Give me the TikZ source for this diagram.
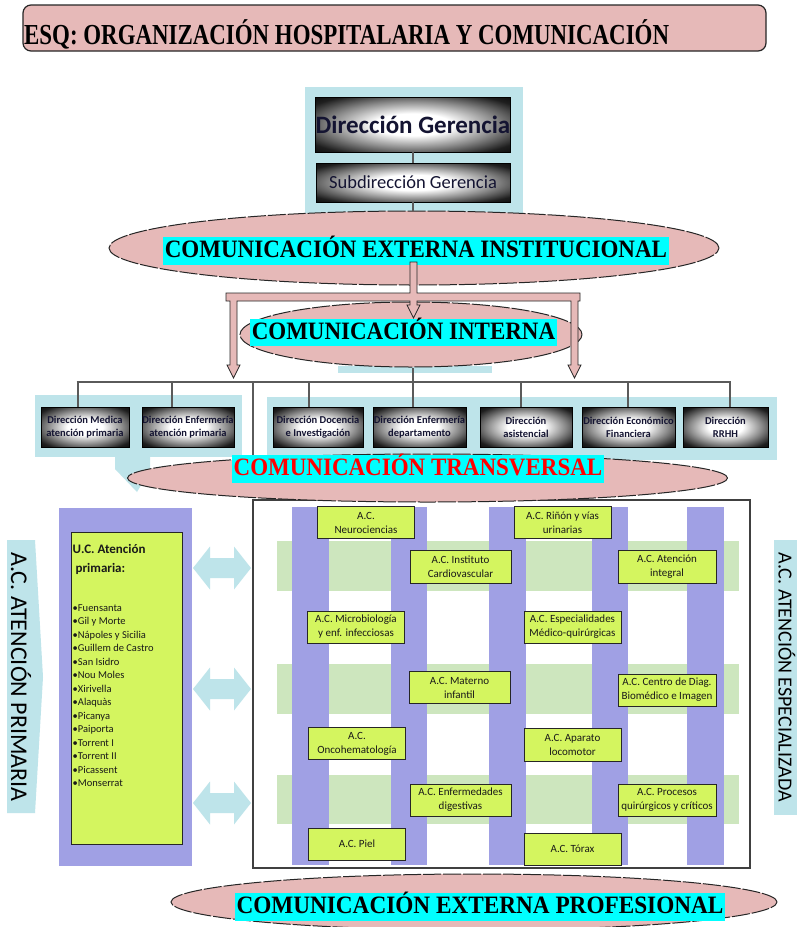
\documentclass[tikz,border=0pt]{standalone}
\usepackage{fontspec}
\usepackage{graphicx}
\setmainfont{Liberation Serif}
\newfontfamily\calfont{Carlito}
\usetikzlibrary{shapes.geometric}
\definecolor{pinkF}{RGB}{230,185,184}
\definecolor{lcyan}{RGB}{190,228,234}
\definecolor{hcyan}{RGB}{0,255,255}
\definecolor{purp}{RGB}{160,160,228}
\definecolor{gband}{RGB}{205,230,190}
\definecolor{limeF}{RGB}{212,245,95}
\definecolor{lineg}{RGB}{90,90,90}
\definecolor{navyT}{RGB}{20,20,50}
\pgfdeclareradialshading{boxshade}{\pgfpoint{0bp}{0bp}}{color(0bp)=(white); color(10bp)=(white); color(21bp)=(black!45); color(31bp)=(black!88); color(40bp)=(black); color(50bp)=(black)}
\begin{document}
\begin{tikzpicture}[x=1pt,y=-1pt,
  ell/.style={ellipse, fill=pinkF, draw=black!85, line width=1pt, dash pattern=on 18pt off 2pt, inner sep=0pt},
  hl/.style={fill=hcyan, font=\bfseries\fontsize{25}{25}\selectfont, text height=19pt, text depth=5.5pt, inner xsep=2pt, inner ysep=1.5pt},
  conn/.style={draw=lineg, line width=2.8pt},
  dirbox/.style={rectangle, shading=boxshade, draw=black, line width=0.6pt, font=\calfont\bfseries\fontsize{10.5}{12.7}\selectfont, text=navyT, align=center, inner sep=0pt, minimum height=40pt},
  acbox/.style={rectangle, fill=limeF, draw=black!85, line width=0.9pt, font=\calfont\fontsize{11}{14}\selectfont, text=black!90, align=center, inner sep=0pt, minimum width=97pt, minimum height=32pt},
  pinkarrow/.style={fill=pinkF, draw=black!85, line width=0.8pt, line join=miter}
]
\useasboundingbox (0,0) rectangle (797,927);
\fill[white] (0,0) rectangle (797,927);

% title
\node[rectangle, rounded corners=8pt, fill=pinkF, draw=black!85, line width=1.2pt, minimum width=743pt, minimum height=46pt] (title) at (394.5,28) {};
\node[anchor=base west, font=\bfseries\fontsize{29}{29}\selectfont, inner sep=0pt] (titletxt) at (24,44) {\scalebox{0.79}[1]{ESQ: ORGANIZACIÓN HOSPITALARIA Y COMUNICACIÓN}};

% top block
\fill[lcyan] (305,87) rectangle (523,232);
\node[ell, minimum width=610pt, minimum height=74pt] (inst) at (414,248) {};
\node[dirbox, minimum width=194pt, minimum height=55pt, font=\calfont\bfseries\fontsize{25}{25}\selectfont] (ger) at (413,124.5) {Dirección Gerencia};
\node[dirbox, minimum width=194pt, minimum height=39pt, font=\calfont\fontsize{18.5}{18.5}\selectfont] (sub) at (413,182.5) {Subdirección Gerencia};
\draw[conn] (ger) -- (sub);
\draw[conn] (sub) -- (sub |- inst.north);
\node[hl] (insttxt) at (416,251) {\scalebox{0.92}[1]{COMUNICACIÓN EXTERNA INSTITUCIONAL}};

% interna
\fill[lcyan] (338,366) rectangle (492,373);
\node[ell, minimum width=342pt, minimum height=65pt] (interna) at (411,334.5) {};
\node[hl] (internatxt) at (403.5,332.5) {\scalebox{0.92}[1]{COMUNICACIÓN INTERNA}};

% pink block arrows
\draw[pinkarrow] (410,262) -- (417,262) -- (417,293) -- (580,293) -- (580,301) -- (578,301) -- (578,365) -- (581,365) -- (574.5,378) -- (568,365) -- (571,365) -- (571,301) -- (417,301) -- (417,305) -- (420,305) -- (413.5,318) -- (407,305) -- (410,305) -- (410,301) -- (237,301) -- (237,365) -- (240,365) -- (233.5,378) -- (227,365) -- (230,365) -- (230,301) -- (226,301) -- (226,293) -- (410,293) -- cycle;

% direction groups
\fill[lcyan] (35,395) rectangle (242,457);
\fill[lcyan] (115,456) -- (150,456) -- (150,470) -- (137,492) -- (115,469) -- cycle;
\fill[lcyan] (267,397) rectangle (777,460);
\node[dirbox, minimum width=88pt] (dm) at (85,427) {Dirección Medica\\atención primaria};
\node[dirbox, minimum width=92pt] (de) at (188,427) {Dirección Enfermería\\atención primaria};
\node[dirbox, minimum width=90pt] (dd) at (318,427) {Dirección Docencia\\e Investigación};
\node[dirbox, minimum width=93pt] (den) at (419.5,427) {Dirección Enfermería\\departamento};
\node[dirbox, minimum width=92pt] (da) at (526,427) {Dirección\\asistencial};
\node[dirbox, minimum width=93pt] (def) at (628.5,427) {Dirección Económico\\Financiera};
\node[dirbox, minimum width=85pt] (dr) at (725.5,427) {Dirección\\RRHH};

\coordinate (b1) at (78,382);
\coordinate (b2) at (172,382);
\coordinate (bs) at (253,382);
\coordinate (b3) at (309,382);
\coordinate (b4) at (413,382);
\coordinate (b5) at (521,382);
\coordinate (b6) at (628,382);
\coordinate (b7) at (730,382);
\draw[conn] ([xshift=-1.4pt]b1) -- ([xshift=1.4pt]b7);
\draw[conn] (b1) -- (b1 |- dm.north);
\draw[conn] (b2) -- (b2 |- de.north);
\draw[conn] (b3) -- (b3 |- dd.north);
\draw[conn] (b4 |- interna.south) -- (b4 |- den.north);
\draw[conn] (b5) -- (b5 |- da.north);
\draw[conn] (b6) -- (b6 |- def.north);
\draw[conn] (b7) -- (b7 |- dr.north);
\draw[conn] (bs) -- ++(0,76);

% lower frame and grid
\fill[gband] (277,541) rectangle (739,591);
\fill[gband] (277,664) rectangle (739,714);
\fill[gband] (277,775) rectangle (739,824);
\foreach \a/\b in {292/329, 391/427, 489/526, 592/628, 687/724}{
  \fill[purp] (\a,507) rectangle (\b,865);
}
\draw[draw=black!75, line width=1.6pt] (253,500) rectangle (750,868);

% transversal
\node[ell, minimum width=600pt, minimum height=48pt] (transv) at (427.5,478) {};
\node[hl, text=red] (transvtxt) at (418,469) {\scalebox{0.92}[1]{COMUNICACIÓN TRANSVERSAL}};

\node[acbox] (neuro) at (366,522.5) {A.C.\\Neurociencias};
\node[acbox, minimum width=101pt, minimum height=33pt] (cardio) at (460.5,566.5) {A.C. Instituto\\Cardiovascular};
\node[acbox] (micro) at (356,627) {A.C. Microbiología\\y enf. infecciosas};
\node[acbox] (rinon) at (562.5,522.5) {A.C. Riñón y vías\\urinarias};
\node[acbox, minimum width=98pt, minimum height=33pt] (integral) at (667,566.5) {A.C. Atención\\integral};
\node[acbox] (espec) at (572.5,627) {A.C. Especialidades\\Médico-quirúrgicas};
\node[acbox, minimum width=101pt] (materno) at (459.5,687.5) {A.C. Materno\\infantil};
\node[acbox] (onco) at (357,743.5) {A.C.\\Oncohematología};
\node[acbox, minimum width=101pt] (digest) at (460.5,800) {A.C. Enfermedades\\digestivas};
\node[acbox] (piel) at (357,844) {A.C. Piel};
\node[acbox, minimum width=98pt] (centro) at (667,690) {A.C. Centro de Diag.\\Biomédico e Imagen};
\node[acbox, minimum height=33pt] (aparato) at (572.5,744.5) {A.C. Aparato\\locomotor};
\node[acbox, minimum width=98pt] (procesos) at (667,800) {A.C. Procesos\\quirúrgicos y críticos};
\node[acbox] (torax) at (572.5,849) {A.C. Tórax};

% left column
\fill[purp] (59,508) rectangle (192,866);
\node[draw=black!85, line width=1pt, fill=limeF, minimum width=111pt, minimum height=312pt, inner sep=0pt] (uc) at (126.5,688) {};
\node[anchor=north west, font=\calfont\bfseries\fontsize{13}{19}\selectfont, align=left, inner sep=0pt, text=black!90] (uctitle) at ([xshift=2pt,yshift=-13pt]uc.north west) {U.C. Atención\\\ primaria:};
\node[anchor=north west, font=\calfont\fontsize{10.5}{13.5}\selectfont, align=left, inner sep=0pt, text=black!90] (uclist) at ([xshift=2pt,yshift=-73pt]uc.north west) {•Fuensanta\\•Gil y Morte\\•Nápoles y Sicilia\\•Guillem de Castro\\•San Isidro\\•Nou Moles\\•Xirivella\\•Alaquàs\\•Picanya\\•Paiporta\\•Torrent I\\•Torrent II\\•Picassent\\•Monserrat};

% double arrows
\foreach \c in {568,689,803}{
  \fill[lcyan] (193,\c) -- (210,{\c-21.5}) -- (210,{\c-10}) -- (234,{\c-10}) -- (234,{\c-21.5}) -- (251,\c) -- (234,{\c+21.5}) -- (234,{\c+10}) -- (210,{\c+10}) -- (210,{\c+21.5}) -- cycle;
}

% side labels
\fill[lcyan] (7,540) -- (35,540) -- (43,677) -- (35,813) -- (7,813) -- cycle;
\node[rotate=-90, font=\calfont\fontsize{24}{24}\selectfont, inner sep=0pt] (lblap) at (21,677) {A.C. ATENCIÓN PRIMARIA};
\fill[lcyan] (774,540) rectangle (797,815);
\node[rotate=-90, font=\calfont\fontsize{20}{20}\selectfont, inner sep=0pt] (lblae) at (787,677) {A.C. ATENCIÓN ESPECIALIZADA};

% bottom ellipse
\node[ell, minimum width=606pt, minimum height=56pt] (prof) at (474,902) {};
\node[hl] (proftxt) at (480,907) {\scalebox{0.93}[1]{COMUNICACIÓN EXTERNA PROFESIONAL}};
\end{tikzpicture}
\end{document}
